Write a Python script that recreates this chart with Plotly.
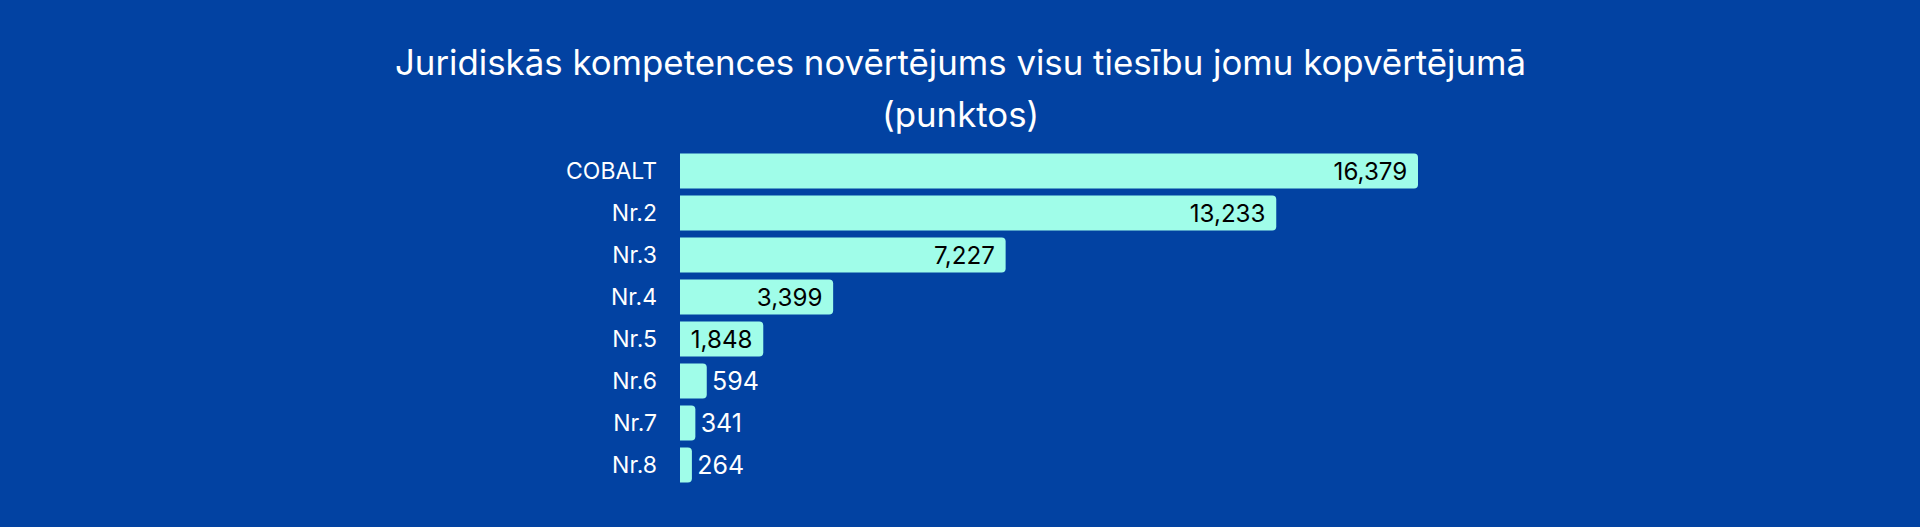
import plotly.graph_objects as go

# chart data
companies = ["COBALT", "Nr.2", "Nr.3", "Nr.4", "Nr.5", "Nr.6", "Nr.7", "Nr.8"]
points = [16379, 13233, 7227, 3399, 1848, 594, 341, 264]
title_line1 = "Juridiskās kompetences novērtējums visu tiesību jomu kopvērtējumā"
title_line2 = "(punktos)"

BG = "#0242a2"
BAR = "#a0fde9"
FONT = "Inter"
NBSP = "\u00a0"
HAIR = "\u200a"

# long bars carry the label inside (pad on the right), short ones outside (small pad on the left)
templates = [f"%{{x:,}}{NBSP}" if v > 1000 else f"{HAIR}%{{x:,}}" for v in points]

fig = go.Figure(
    go.Bar(
        x=points,
        y=companies,
        orientation="h",
        marker=dict(color=BAR, line=dict(width=0), cornerradius=4),
        texttemplate=templates,
        textposition="auto",
        insidetextanchor="end",
        insidetextfont=dict(family=FONT, size=25, color="#000000"),
        outsidetextfont=dict(family=FONT, size=25, color="#ffffff"),
        cliponaxis=False,
        hoverinfo="skip",
    )
)

fig.update_layout(
    width=1920,
    height=527,
    paper_bgcolor=BG,
    plot_bgcolor=BG,
    showlegend=False,
    bargap=0.167,
    margin=dict(l=680, r=502, t=150, b=41, pad=0),
    font=dict(family=FONT, color="#ffffff"),
)

# two title lines as annotations so the line gap can match
for text, y in [(title_line1, 1.262), (title_line2, 1.107)]:
    fig.add_annotation(
        text=text,
        xref="paper",
        yref="paper",
        x=(960 - 680) / (1920 - 680 - 502),
        y=y,
        xanchor="center",
        yanchor="middle",
        showarrow=False,
        font=dict(family=FONT, size=34.8, color="#ffffff"),
    )

fig.update_xaxes(visible=False, range=[0, max(points)], fixedrange=True)
fig.update_yaxes(
    autorange="reversed",
    showgrid=False,
    showline=False,
    zeroline=False,
    ticks="",
    ticklabelstandoff=22,
    tickfont=dict(family=FONT, size=23, color="#ffffff"),
    fixedrange=True,
)

fig.write_html(
    "out.html",
    config={"displayModeBar": False},
    post_script="document.body.style.margin='0';",
)
